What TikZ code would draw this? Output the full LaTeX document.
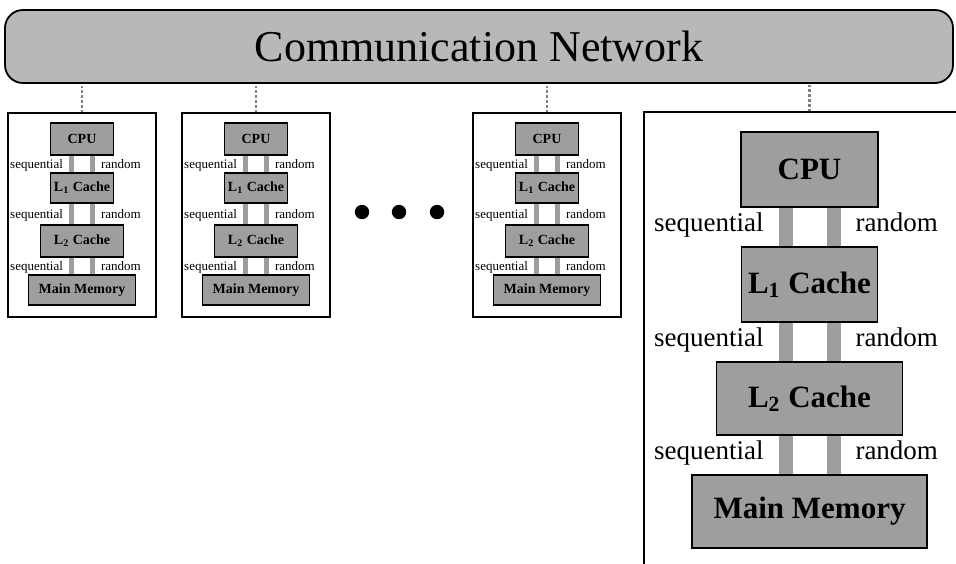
\documentclass[tikz,border=0pt]{standalone}
\usepackage{fontspec}
\setmainfont{Liberation Serif}
\definecolor{boxgray}{gray}{0.62}
\definecolor{netgray}{gray}{0.72}

\begin{document}
\begin{tikzpicture}[x=0.5pt,y=-0.5pt,
  net node/.style={draw,line width=0.9pt,rounded corners=9pt,fill=netgray,minimum width=474pt,minimum height=36.5pt,font=\fontsize{22}{26}\selectfont},
  host node/.style={draw,line width=0.6pt},
  mem node/.style={draw,line width=0.6pt,fill=boxgray,inner sep=0pt,font=\fontsize{7}{8}\selectfont\bfseries},
  big mem node/.style={draw,line width=0.9pt,fill=boxgray,inner sep=0pt,font=\fontsize{15.5}{18}\selectfont\bfseries},
  link/.style={draw=gray,line width=1.4pt,densely dotted},
  bus/.style={draw=boxgray,line width=2.6pt},
  big bus/.style={draw=boxgray,line width=7pt},
  lbl/.style={inner sep=3pt,text height=0.7em,text depth=0.22em,font=\fontsize{6.5}{8}\selectfont},
  big lbl/.style={inner sep=7.5pt,text height=0.7em,text depth=0.22em,font=\fontsize{13.5}{16}\selectfont}]

  \useasboundingbox (0,0) rectangle (956,563);
  \clip (0,0) rectangle (956,563);

  \node[net node] (net) at (479,46.5) {Communication Network};

  % small processors
  \foreach \x/\n in {82/a,256/b,547/c}{
    \node[host node,minimum width=74pt,minimum height=102pt] (host\n) at (\x,215) {};
    \node[mem node,minimum width=31.5pt,minimum height=16pt] (cpu\n) at (\x,139) {CPU};
    \node[mem node,minimum width=31.5pt,minimum height=15pt] (lone\n) at (\x,188) {L\textsubscript{1} Cache};
    \node[mem node,minimum width=41.5pt,minimum height=16pt] (ltwo\n) at (\x,241) {L\textsubscript{2} Cache};
    \node[mem node,minimum width=53.5pt,minimum height=15pt] (mem\n) at (\x,290) {Main Memory};

    \draw[link] (host\n.north) -- (host\n.north |- net.south);
    \draw[bus] ([xshift=-5.25pt]cpu\n.south) -- node[lbl,left]{sequential} ([xshift=-5.25pt]lone\n.north);
    \draw[bus] ([xshift=5.25pt]cpu\n.south) -- node[lbl,right]{random} ([xshift=5.25pt]lone\n.north);
    \draw[bus] ([xshift=-5.25pt]lone\n.south) -- node[lbl,left]{sequential} ([xshift=-5.25pt]ltwo\n.north);
    \draw[bus] ([xshift=5.25pt]lone\n.south) -- node[lbl,right]{random} ([xshift=5.25pt]ltwo\n.north);
    \draw[bus] ([xshift=-5.25pt]ltwo\n.south) -- node[lbl,left]{sequential} ([xshift=-5.25pt]mem\n.north);
    \draw[bus] ([xshift=5.25pt]ltwo\n.south) -- node[lbl,right]{random} ([xshift=5.25pt]mem\n.north);
  }

  \foreach \x in {362,399,437}
    \fill (\x,212) circle (3.6pt);

  % enlarged processor
  \node[host node,minimum width=165.5pt,minimum height=234pt] (hostd) at (809.5,346) {};
  \node[big mem node,minimum width=68.5pt,minimum height=37.5pt] (cpud) at (809.5,169.5) {CPU};
  \node[big mem node,minimum width=68pt,minimum height=37.5pt] (loned) at (809.5,284.5) {L\textsubscript{1} Cache};
  \node[big mem node,minimum width=93pt,minimum height=36.5pt] (ltwod) at (809.5,398.5) {L\textsubscript{2} Cache};
  \node[big mem node,minimum width=117.5pt,minimum height=36.5pt] (memd) at (809.5,511.5) {Main Memory};

  \draw[link] (hostd.north) -- (hostd.north |- net.south);
  \draw[big bus] ([xshift=-12pt]cpud.south) -- node[big lbl,left]{sequential} ([xshift=-12pt]loned.north);
  \draw[big bus] ([xshift=12pt]cpud.south) -- node[big lbl,right]{random} ([xshift=12pt]loned.north);
  \draw[big bus] ([xshift=-12pt]loned.south) -- node[big lbl,left]{sequential} ([xshift=-12pt]ltwod.north);
  \draw[big bus] ([xshift=12pt]loned.south) -- node[big lbl,right]{random} ([xshift=12pt]ltwod.north);
  \draw[big bus] ([xshift=-12pt]ltwod.south) -- node[big lbl,left]{sequential} ([xshift=-12pt]memd.north);
  \draw[big bus] ([xshift=12pt]ltwod.south) -- node[big lbl,right]{random} ([xshift=12pt]memd.north);
\end{tikzpicture}
\end{document}
